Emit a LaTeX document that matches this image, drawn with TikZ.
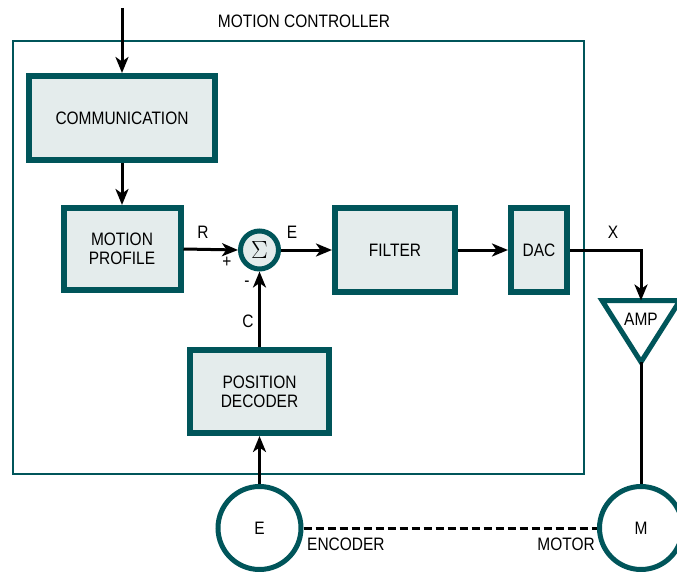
\documentclass[tikz,border=0pt]{standalone}
\usepackage{fontspec}
\setmainfont[FakeStretch=0.86]{Liberation Sans}
\usetikzlibrary{arrows.meta}
\definecolor{tealline}{RGB}{0,85,90}
\definecolor{boxfill}{RGB}{228,236,236}
\begin{document}
\begin{tikzpicture}[x=1pt,y=-1pt,
  blk/.style={draw=tealline,line width=6pt,fill=boxfill,inner sep=0pt,
    font=\fontsize{18}{19}\selectfont,align=center},
  lbl/.style={font=\fontsize{18}{19}\selectfont,inner sep=0pt},
  conn/.style={line width=3pt,-{Stealth[length=16pt,width=13pt,inset=4.5pt]}},
  wire/.style={line width=3pt},
  ring/.style={circle,draw=tealline,line width=5pt,fill=white,inner sep=0pt,
    font=\fontsize{18}{19}\selectfont}]
\useasboundingbox (0,0) rectangle (677,572);
% controller frame
\node[draw=tealline,line width=2.5pt,minimum width=571pt,minimum height=433pt,inner sep=0pt]
  (ctrl) at (298.5,257.5) {};
\node[lbl] (ctrltitle) at (304,21) {MOTION CONTROLLER};
% blocks
\node[blk,minimum width=186pt,minimum height=84pt] (comm) at (122,118) {COMMUNICATION};
\node[blk,minimum width=117pt,minimum height=82pt] (mp) at (122,249) {MOTION\\PROFILE};
\node[blk,minimum width=120pt,minimum height=84pt] (filter) at (395,250) {FILTER};
\node[blk,minimum width=56pt,minimum height=84pt] (dac) at (539,250) {DAC};
\node[blk,minimum width=139pt,minimum height=83pt] (dec) at (259.5,391.5) {POSITION\\DECODER};
\node[circle,draw=tealline,line width=5pt,fill=boxfill,minimum size=38pt,inner sep=0pt,
  font=\fontsize{23}{23}\selectfont] (sum) at (259.5,250) {$\Sigma$};
% amplifier
\node[lbl] (amp) at (641,319) {AMP};
\coordinate (amptop) at (641,300.5);
\coordinate (ampbot) at (641,362);
\draw[draw=tealline,line width=5pt,line join=miter] (602,300.5) -- (680,300.5) -- (ampbot) -- cycle;
% encoder and motor
\node[ring,minimum size=83pt] (enc) at (259.5,528) {E};
\node[ring,minimum size=83pt] (mot) at (641,528) {M};
\node[lbl,anchor=west] (enctext) at (307,544) {ENCODER};
\node[lbl,anchor=east] (mottext) at (595,544) {MOTOR};
% connectors
\coordinate (in) at (122,8);
\draw[conn] (in) -- (comm.north);
\draw[conn] (comm.south) -- (mp.north);
\draw[conn] (mp.east) -- (sum.west);
\draw[conn] (sum.east) -- (filter.west);
\draw[conn] (filter.east) -- (dac.west);
\draw[conn] (dac.east) -| (amptop);
\draw[conn] (dec.north) -- (sum.south);
\draw[conn] (enc.north) -- (dec.south);
\draw[wire] (ampbot) -- (mot.north);
\draw[wire,dash pattern=on 8pt off 4pt] (enc.east) -- (mot.west);
% signal labels
\node[lbl] (rlab) at (203,232) {R};
\node[lbl] (plus) at (227,262) {+};
\node[lbl] (minus) at (247,284) {-};
\node[lbl] (elab) at (292,232) {E};
\node[lbl] (xlab) at (613,232) {X};
\node[lbl] (clab) at (248,321) {C};
\end{tikzpicture}
\end{document}
